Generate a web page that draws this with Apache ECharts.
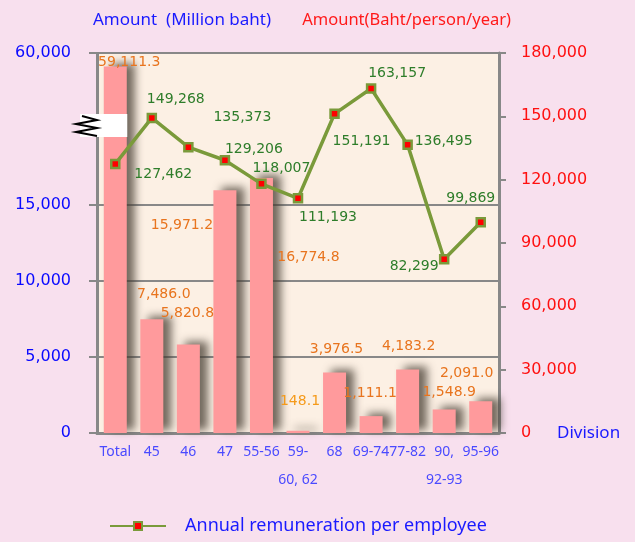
<!DOCTYPE html>
<html>
<head>
<meta charset="utf-8">
<script src="https://cdn.jsdelivr.net/npm/echarts@6.0.0/dist/echarts.min.js"></script>
<style>
html, body { margin: 0; padding: 0; background: #f8e0ee; }
#chart { width: 635px; height: 542px; }
</style>
</head>
<body>
<div id="chart"></div>
<script>
// data
const categories = ['Total', '45', '46', '47', '55-56', '59-\n60, 62', '68', '69-74', '77-82', '90,\n92-93', '95-96'];
const amountMillion = [59111.3, 7486.0, 5820.8, 15971.2, 16774.8, 148.1, 3976.5, 1111.1, 4183.2, 1548.9, 2091.0];
const perEmployee = [127462, 149268, 135373, 129206, 118007, 111193, 151191, 163157, 136495, 82299, 99869];
const leftTicks = [0, 5000, 10000, 15000, 60000];
const rightTicks = [0, 30000, 60000, 90000, 120000, 150000, 180000];

// label nudges (the original places labels by hand)
const barLabelOffsets = [[14, 8], [12, -13], [-1, -19], [-43, 47], [47, 91], [2, -17], [2, -11], [-1, -11], [1, -11], [5, -5], [-14, -16]];
const lineLabelOffsets = [[48, 10], [24, -19], [54, -30], [29, -11], [20, -16], [30, 19], [27, 28], [26, -15], [36, -3], [-30, 7], [-10, -24]];

const fmt = v => v.toLocaleString('en-US');
const FONT = 'DejaVu Sans';
const TITLE_FONT = 'Noto Sans';

let chartDom = document.getElementById('chart');
let myChart = echarts.init(chartDom);

let option = {
  backgroundColor: '#f8e0ee',
  textStyle: { fontFamily: FONT },
  animation: false,
  grid: {
    left: 94,
    right: 136,
    top: 53,
    bottom: 109,
    show: true,
    backgroundColor: '#fcf0e4',
    borderWidth: 0
  },
  legend: {
    bottom: 2,
    left: 104,
    itemWidth: 56,
    itemHeight: 10,
    data: ['Annual remuneration per employee'],
    textStyle: { color: '#1a1aff', fontSize: 18, fontFamily: TITLE_FONT, padding: [0, 0, 0, 14] }
  },
  xAxis: {
    type: 'category',
    data: categories,
    name: 'Division',
    nameLocation: 'end',
    nameGap: 58,
    nameTextStyle: { color: '#1a1aff', fontSize: 17, fontFamily: TITLE_FONT, verticalAlign: 'middle' },
    axisLine: { lineStyle: { color: '#888', width: 3 } },
    axisTick: { show: false },
    axisLabel: { color: '#4a4aff', fontSize: 14, fontFamily: TITLE_FONT, margin: 5, lineHeight: 28, interval: 0 }
  },
  yAxis: [
    {
      type: 'value',
      min: 0,
      max: 60000,
      interval: 5000,
      breaks: [{ start: 20000, end: 55000, gap: 0 }],
      breakArea: { show: false },
      name: 'Amount  (Million baht)',
      nameLocation: 'end',
      nameGap: 24,
      nameTextStyle: { color: '#1a1aff', fontSize: 17, fontFamily: TITLE_FONT, align: 'left', padding: [0, 0, 0, -4] },
      axisLine: { show: true, lineStyle: { color: '#888', width: 3 } },
      axisTick: { show: true, length: 8, lineStyle: { color: '#888', width: 2 } },
      axisLabel: {
        color: '#0a0aff',
        fontSize: 16,
        margin: 26,
        align: 'right',
        formatter: v => (leftTicks.indexOf(v) >= 0 ? fmt(v) : '')
      },
      splitLine: { show: true, lineStyle: { color: '#888', width: 2 } }
    },
    {
      type: 'value',
      min: 0,
      max: 180000,
      interval: 30000,
      position: 'right',
      name: 'Amount(Baht/person/year)',
      nameLocation: 'end',
      nameGap: 24,
      nameTextStyle: { color: '#ff1a1a', fontSize: 16.5, fontFamily: TITLE_FONT, align: 'right', padding: [0, -12, 0, 0] },
      axisLine: { show: true, lineStyle: { color: '#888', width: 3 } },
      axisTick: { show: true, length: 7, lineStyle: { color: '#888', width: 2 } },
      axisLabel: {
        color: '#ff1010',
        fontSize: 16,
        margin: 22,
        formatter: v => (rightTicks.indexOf(v) >= 0 ? fmt(v) : '')
      },
      splitLine: { show: false }
    }
  ],
  series: [
    {
      name: 'Amount (Million baht)',
      type: 'bar',
      yAxisIndex: 0,
      barWidth: 23,
      z: 3,
      itemStyle: {
        color: '#ff9a9c',
        shadowColor: 'rgba(70,60,50,0.75)',
        shadowBlur: 9,
        shadowOffsetX: 8,
        shadowOffsetY: -3
      },
      data: amountMillion.map((v, i) => ({
        value: v,
        label: {
          offset: barLabelOffsets[i],
          color: i === 5 ? '#f59a1a' : '#e8741e'
        }
      })),
      label: {
        show: true,
        position: 'top',
        fontSize: 14,
        fontFamily: FONT,
        formatter: p => p.value.toLocaleString('en-US', { minimumFractionDigits: 1, maximumFractionDigits: 1 })
      }
    },
    {
      name: 'Annual remuneration per employee',
      type: 'line',
      yAxisIndex: 1,
      z: 5,
      symbol: 'rect',
      symbolSize: 8,
      lineStyle: { color: '#7a9a3a', width: 3.5 },
      itemStyle: { color: '#ff0000', borderColor: '#7a9a3a', borderWidth: 2.5 },
      data: perEmployee.map((v, i) => ({
        value: v,
        label: { offset: lineLabelOffsets[i] }
      })),
      label: {
        show: true,
        position: 'inside',
        color: '#2e7d2a',
        fontSize: 14,
        fontFamily: FONT,
        formatter: p => fmt(p.value)
      }
    }
  ]
};

myChart.setOption(option);

// break marker over the Total bar
let yBreak = myChart.convertToPixel({ yAxisIndex: 0 }, 20000);
let xTotal = myChart.convertToPixel({ xAxisIndex: 0 }, categories[0]);
let axisX = 94;
myChart.setOption({
  graphic: [
    {
      type: 'rect',
      z: 100,
      shape: { x: axisX - 14, y: yBreak - 15, width: (xTotal + 12) - (axisX - 14), height: 23 },
      style: { fill: '#ffffff' }
    },
    {
      type: 'polyline',
      z: 101,
      shape: {
        points: [
          [axisX - 12, yBreak - 13], [axisX + 3, yBreak - 9], [axisX - 18, yBreak - 5],
          [axisX + 3, yBreak - 1], [axisX - 18, yBreak + 3], [axisX + 3, yBreak + 7]
        ]
      },
      style: { stroke: '#000', lineWidth: 2, fill: null }
    }
  ]
});
</script>
</body>
</html>
